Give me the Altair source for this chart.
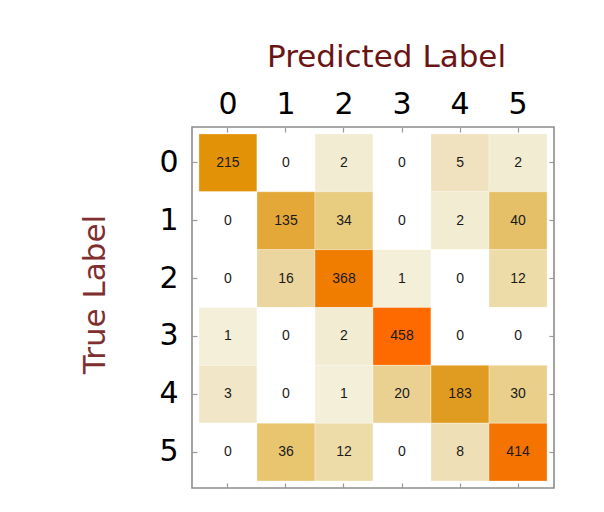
import altair as alt
import pandas as pd

labels = ["0", "1", "2", "3", "4", "5"]

# rows = true label, columns = predicted label
counts = [
    [215, 0, 2, 0, 5, 2],
    [0, 135, 34, 0, 2, 40],
    [0, 16, 368, 1, 0, 12],
    [1, 0, 2, 458, 0, 0],
    [3, 0, 1, 20, 183, 30],
    [0, 36, 12, 0, 8, 414],
]

# piecewise colour ramp
color_stops = [0, 1, 2, 3, 5, 8, 12, 16, 20, 30, 34, 36, 40, 135, 183, 215, 368, 414, 458]
color_range = [
    "#ffffff", "#f3efd8", "#f2ecd2", "#f1e7c8", "#f0e2be", "#efdfb6",
    "#eddca8", "#ecd6a0", "#ead192", "#e9cf8a", "#e8cc80", "#e8c670",
    "#e6c068", "#e4a838", "#e09c20", "#e19207", "#f07c00", "#f57300",
    "#ff6a00",
]

rows = []
for i, true_lab in enumerate(labels):
    for j, pred_lab in enumerate(labels):
        rows.append({"true": true_lab, "pred": pred_lab, "count": counts[i][j]})
df = pd.DataFrame(rows)

tick_style = dict(tickSize=5, tickColor="#999999", tickWidth=1.2, domain=False, offset=-5)

x_top = alt.Axis(
    orient="top", title="Predicted Label", labelAngle=0,
    labelFont="DejaVu Sans", labelFontSize=30, labelColor="black",
    labelBaseline="alphabetic", labelPadding=14,
    titleFont="DejaVu Sans", titleFontSize=31, titleFontWeight="normal",
    titleColor="#6b1414", titleX=194, titleY=-66,
    titleBaseline="alphabetic", titleAlign="center",
    **tick_style,
)
y_left = alt.Axis(
    orient="left", title="True Label", labelAngle=0,
    labelFont="DejaVu Sans", labelFontSize=30, labelColor="black",
    labelPadding=14,
    titleFont="DejaVu Sans", titleFontSize=31, titleFontWeight="normal",
    titleColor="#7f2f2f", titleAngle=270, titleX=-93, titleY=167,
    titleBaseline="alphabetic", titleAlign="center",
    **tick_style,
)
x_bottom = alt.Axis(orient="bottom", title=None, labels=False, **tick_style)
y_right = alt.Axis(orient="right", title=None, labels=False, **tick_style)

band = alt.Scale(paddingInner=0, paddingOuter=0.12)

cells = alt.Chart(df).mark_rect(stroke="white", strokeWidth=0.6, strokeOpacity=0.5).encode(
    x=alt.X("pred:O", sort=labels, scale=band, axis=x_top),
    y=alt.Y("true:O", sort=labels, scale=band, axis=y_left),
    color=alt.Color(
        "count:Q",
        scale=alt.Scale(domain=color_stops, range=color_range, interpolate="rgb"),
        legend=None,
    ),
)

numbers = alt.Chart(df).mark_text(
    font="Liberation Sans", fontSize=14, color="#1a1a1a"
).encode(
    x=alt.X("pred:O", sort=labels, axis=x_bottom),
    y=alt.Y("true:O", sort=labels, axis=y_right),
    text="count:Q",
)

chart = alt.layer(cells, numbers).resolve_axis(
    x="independent", y="independent"
).properties(
    width=362,
    height=361,
    autosize=alt.AutoSizeParams(type="none"),
    padding={"left": 184, "top": 119, "right": 42, "bottom": 8},
).configure_view(
    stroke="#8c8c8c", strokeWidth=1.6
)

chart.save("out.html", embed_options={"renderer": "svg", "actions": False})
